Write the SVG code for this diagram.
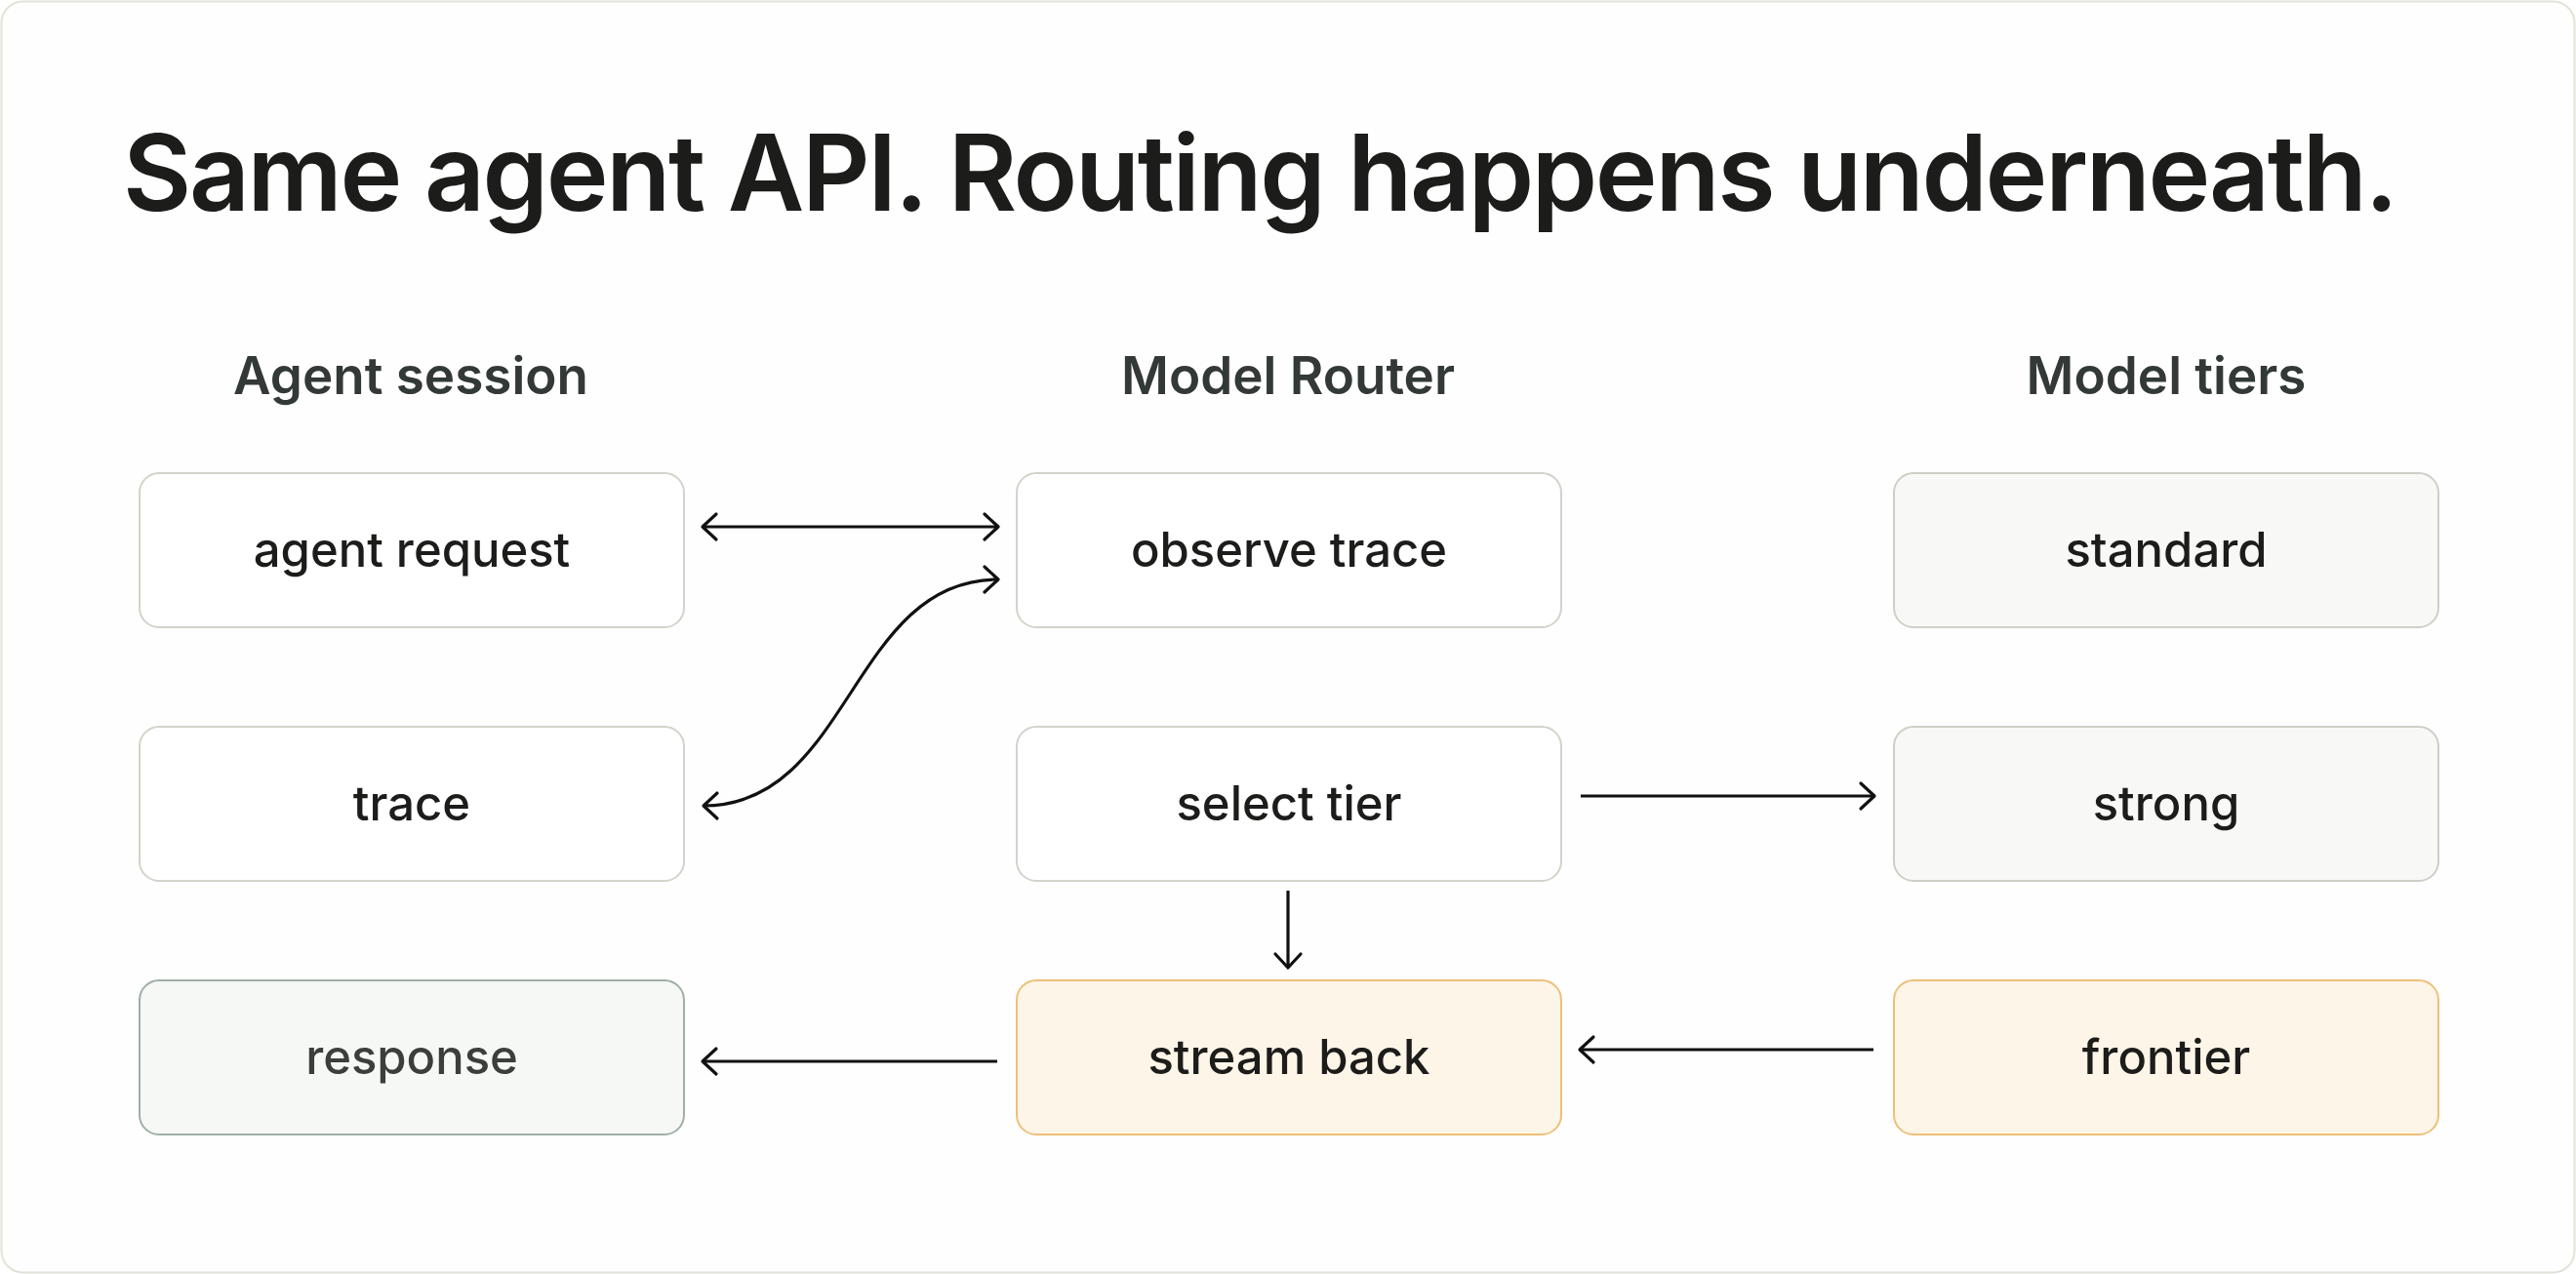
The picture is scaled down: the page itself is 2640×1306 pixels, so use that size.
<svg xmlns="http://www.w3.org/2000/svg" width="2640" height="1306" viewBox="0 0 2640 1306">
  <style>
    .title { font-family: Inter, "Liberation Sans", sans-serif; font-weight: 600; font-size: 108px; fill: #1c1c1a; }
    .hdr { font-family: Inter, "Liberation Sans", sans-serif; font-weight: 600; font-size: 53px; fill: #333936; text-anchor: middle; }
    .lbl { font-family: Inter, "Liberation Sans", sans-serif; font-weight: 500; font-size: 49px; fill: #1c1c1a; text-anchor: middle; }
    .box { fill: #ffffff; stroke: #d3d3cb; stroke-width: 2; }
    .tier { fill: #f8f9f6; stroke: #cfcfc7; stroke-width: 2; }
    .done { fill: #f6f8f5; stroke: #9fafa7; stroke-width: 2; }
    .hot { fill: #fdf5e8; stroke: #edc07a; stroke-width: 2; }
    .edge { fill: none; stroke: #111111; stroke-width: 3.2; }
  </style>
  <defs>
    <marker id="arr" markerUnits="userSpaceOnUse" viewBox="-20 -18 24 36" refX="0" refY="0" markerWidth="24" markerHeight="36" orient="auto-start-reverse">
      <path d="M -14 -13 L 0 0 L -14 13" fill="none" stroke="#111111" stroke-width="3.2" stroke-linecap="round" stroke-linejoin="round"/>
    </marker>
  </defs>
  <rect x="1.5" y="1.5" width="2637" height="1303" rx="22" fill="#fefefe" stroke="#e2e2d8" stroke-width="2"/>
  <text class="title" x="126" y="216" textLength="2332" lengthAdjust="spacing">Same agent API. Routing happens underneath.</text>
  <text class="hdr" x="421" y="404">Agent session</text>
  <text class="hdr" x="1320" y="404">Model Router</text>
  <text class="hdr" x="2220" y="404">Model tiers</text>

  <g id="agent-request"><rect class="box" x="143" y="485" width="558" height="158" rx="20"/><text class="lbl" x="422" y="581">agent request</text></g>
  <g id="trace"><rect class="box" x="143" y="745" width="558" height="158" rx="20"/><text class="lbl" x="422" y="841">trace</text></g>
  <g id="response"><rect class="done" x="143" y="1005" width="558" height="158" rx="20"/><text class="lbl" x="422" y="1101" style="fill:#3a3f3c">response</text></g>

  <g id="observe-trace"><rect class="box" x="1042" y="485" width="558" height="158" rx="20"/><text class="lbl" x="1321" y="581">observe trace</text></g>
  <g id="select-tier"><rect class="box" x="1042" y="745" width="558" height="158" rx="20"/><text class="lbl" x="1321" y="841">select tier</text></g>
  <g id="stream-back"><rect class="hot" x="1042" y="1005" width="558" height="158" rx="20"/><text class="lbl" x="1321" y="1101">stream back</text></g>

  <g id="standard"><rect class="tier" x="1941" y="485" width="558" height="158" rx="20"/><text class="lbl" x="2220" y="581">standard</text></g>
  <g id="strong"><rect class="tier" x="1941" y="745" width="558" height="158" rx="20"/><text class="lbl" x="2220" y="841">strong</text></g>
  <g id="frontier"><rect class="hot" x="1941" y="1005" width="558" height="158" rx="20"/><text class="lbl" x="2220" y="1101">frontier</text></g>

  <g id="connectors">
    <path class="edge" d="M 720 540 L 1023 540" marker-start="url(#arr)" marker-end="url(#arr)"/>
    <path class="edge" d="M 721 826 C 872 826, 872 594, 1023 594" marker-start="url(#arr)" marker-end="url(#arr)"/>
    <path class="edge" d="M 1620 816 L 1921 816" marker-end="url(#arr)"/>
    <path class="edge" d="M 1320 913 L 1320 992" marker-end="url(#arr)"/>
    <path class="edge" d="M 1920 1076 L 1619 1076" marker-end="url(#arr)"/>
    <path class="edge" d="M 1022 1088 L 720 1088" marker-end="url(#arr)"/>
  </g>
</svg>
